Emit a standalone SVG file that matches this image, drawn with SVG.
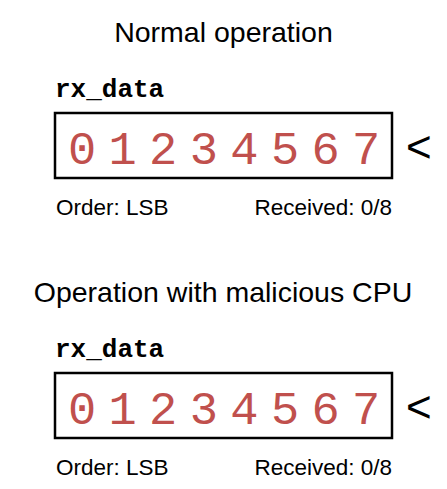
<svg xmlns="http://www.w3.org/2000/svg" width="447" height="489" viewBox="0 0 447 489">
<style>
.title{font-family:"Liberation Sans",Arial,sans-serif;font-size:28.5px;fill:#000;text-anchor:middle}
.reg{font-family:"Liberation Mono","Courier New",monospace;font-size:26px;font-weight:bold;fill:#000}
.box{fill:#fff;stroke:#000;stroke-width:2.5}
.bit{font-family:"Liberation Mono","Courier New",monospace;font-size:47px;fill:#c0504d;text-anchor:middle}
.info{font-family:"Liberation Sans",Arial,sans-serif;font-size:22.5px;fill:#000}
.ptr{font-family:"Liberation Sans",Arial,sans-serif;font-size:44px;fill:#000}
</style>
<defs>
<g id="reg">
<text class="reg" x="55" y="97">rx_data</text>
<rect class="box" x="55" y="113" width="337" height="65"/>
<text class="bit" y="164"><tspan x="82">0</tspan><tspan x="122.6">1</tspan><tspan x="163.2">2</tspan><tspan x="203.8">3</tspan><tspan x="244.4">4</tspan><tspan x="285">5</tspan><tspan x="325.6">6</tspan><tspan x="366.2">7</tspan></text>
<text class="ptr" x="406" y="162">&lt;</text>
<text class="info" x="56" y="215">Order: LSB</text>
<text class="info" x="392" y="215" text-anchor="end">Received: 0/8</text>
</g>
</defs>
<g id="normal">
<text class="title" x="223.5" y="42">Normal operation</text>
<use href="#reg"/>
</g>
<g id="malicious" transform="translate(0,260)">
<text class="title" x="223" y="42">Operation with malicious CPU</text>
<use href="#reg"/>
</g>
</svg>
